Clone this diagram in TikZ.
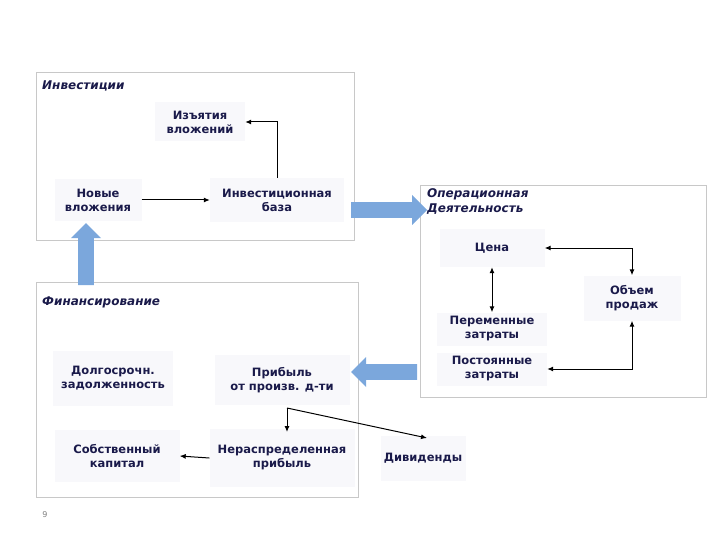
\documentclass[tikz,border=0pt]{standalone}
\usepackage{fontspec}
\setmainfont{DejaVu Sans}
\usetikzlibrary{shapes.arrows,arrows.meta}
\definecolor{txt}{HTML}{1A1A4A}
\definecolor{frm}{HTML}{C8C8C8}
\definecolor{blu}{HTML}{7BA7DC}
\definecolor{nf}{HTML}{F8F8FB}
\begin{document}
\begin{tikzpicture}[x=1pt,y=-1pt,
  frame/.style={draw=frm,line width=0.8pt},
  nbox/.style={fill=nf,text=txt,font=\fontsize{11.5}{14}\selectfont\bfseries,align=center,inner sep=0pt},
  ttl/.style={text=txt,font=\fontsize{12}{15}\selectfont\bfseries\itshape,anchor=north west,align=left,inner sep=0pt},
  con/.style={-{Latex[length=6pt,width=5pt]},line width=1pt},
  dcon/.style={{Latex[length=6pt,width=5pt]}-{Latex[length=6pt,width=5pt]},line width=1pt},
  big/.style={single arrow,fill=blu,draw=none,minimum height=#1,minimum width=30pt,single arrow head extend=5pt,inner sep=5.5pt,single arrow head indent=0pt}]
\useasboundingbox (0,0) rectangle (720,540);
\draw[frame] (36,72) rectangle (354,240);
\draw[frame] (420,185) rectangle (706,397);
\draw[frame] (36,282) rectangle (358,497);
\node[ttl] (t1) at (42,81) {Инвестиции};
\node[ttl] (t2) at (427,188) {Операционная\\Деятельность};
\node[ttl] (t3) at (42,297) {Финансирование};
\node[nbox,minimum width=90pt,minimum height=39pt] (izv) at (200,122) {Изъятия\\вложений};
\node[nbox,minimum width=87pt,minimum height=42pt] (nov) at (98,200) {Новые\\вложения};
\node[nbox,minimum width=134pt,minimum height=44pt] (baz) at (277,200) {Инвестиционная\\база};
\node[nbox,minimum width=105pt,minimum height=38pt] (cen) at (492,248) {Цена};
\node[nbox,minimum width=97pt,minimum height=45pt] (obj) at (632,298) {Объем\\продаж};
\node[nbox,minimum width=110pt,minimum height=33pt] (per) at (492,329) {Переменные\\затраты};
\node[nbox,minimum width=110pt,minimum height=33pt] (pos) at (492,369) {Постоянные\\затраты};
\node[nbox,minimum width=120pt,minimum height=55pt] (dol) at (113,378) {Долгосрочн.\\задолженность};
\node[nbox,minimum width=135pt,minimum height=50pt] (pri) at (282,380) {Прибыль\\от произв. д-ти};
\node[nbox,minimum width=125pt,minimum height=52pt] (sob) at (117,456) {Собственный\\капитал};
\node[nbox,minimum width=145pt,minimum height=58pt] (ner) at (282,458) {Нераспределенная\\прибыль};
\node[nbox,minimum width=85pt,minimum height=45pt] (div) at (423,458) {Дивиденды};
\node[text=gray,font=\fontsize{8}{9}\selectfont] (pg) at (45,515) {9};
\coordinate (a1) at (287,408);
\coordinate (a2) at (287,432);
\coordinate (a3) at (427,438);
\draw[con] (nov.east) -- (baz.west);
\draw[con] (baz.north) -- (izv.east -| baz.north) -- (izv.east);
\draw[dcon] (cen.south) -- (per.north);
\draw[dcon] (cen.east) -| (obj.north);
\draw[dcon] (pos.east) -| (obj.south);
\draw[con] (a1) -- (a2);
\draw[con] (a1) -- (a3);
\draw[con] (ner.west) -- (sob.east);
\node[big=76pt] (b1) at (385,210) {};
\node[big=62pt,shape border rotate=90] (b2) at (86,258) {};
\node[big=66pt,shape border rotate=180] (b3) at (388,372) {};
\end{tikzpicture}
\end{document}
